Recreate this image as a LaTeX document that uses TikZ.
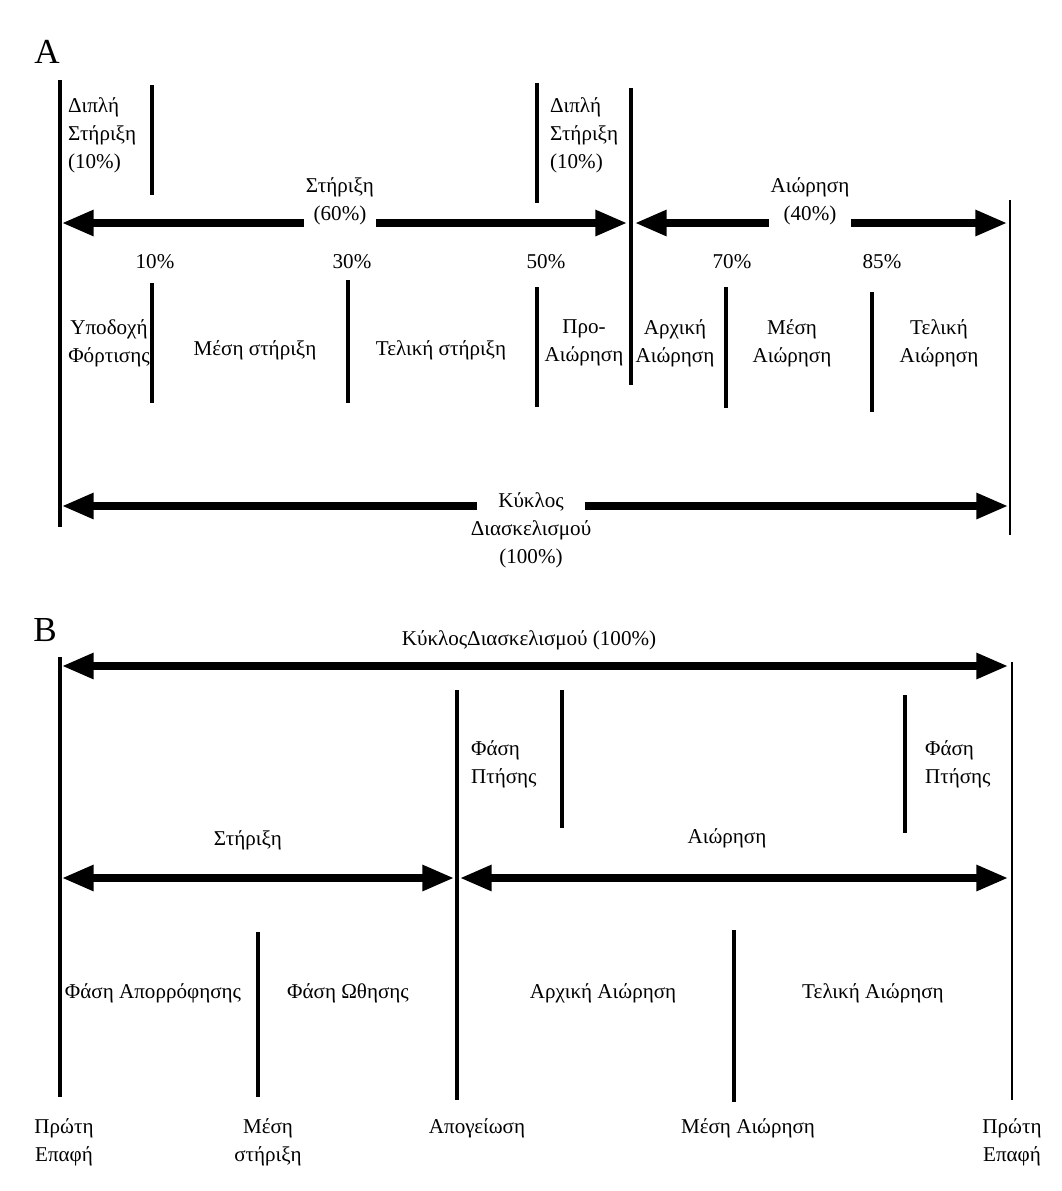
\documentclass[tikz,border=0pt]{standalone}
\usepackage{fontspec}
\setmainfont{Liberation Serif}
\usetikzlibrary{arrows.meta,positioning}

\begin{document}
\begin{tikzpicture}[
x=0.02cm,
y=-0.02cm,
bar/.style={
  line width=2.8pt,
  },
rim/.style={
  line width=1.6pt,
  },
halfspan/.style={
  line width=4pt,
  -{Triangle[length=18pt,width=14pt]}
  },
span/.style={
  line width=4pt,
  {Triangle[length=18pt,width=14pt]}-{Triangle[length=18pt,width=14pt]}
  },
lbl/.style={
  font=\fontsize{12}{16}\selectfont,
  align=center,
  inner sep=1pt
  },
lbll/.style={
  lbl,
  align=left,
  anchor=west
  },
tag/.style={
  font=\fontsize{20}{24}\selectfont,
  inner sep=0pt
  }
]
\useasboundingbox (0,0) rectangle (1062,1191);

% A
\node[tag] (tagA) at (47,52) {A};

\coordinate (a0t) at (60,80);
\coordinate (a0b) at (60,527);
\coordinate (amt) at (631,88);
\coordinate (amb) at (631,385);
\coordinate (a9t) at (1010,200);
\coordinate (a9b) at (1010,535);
\draw[bar] (a0t) -- (a0b);
\draw[bar] (amt) -- (amb);
\draw[rim] (a9t) -- (a9b);

\coordinate (d1t) at (152,85);
\coordinate (d1b) at (152,195);
\coordinate (d2t) at (537,83);
\coordinate (d2b) at (537,203);
\draw[bar] (d1t) -- (d1b);
\draw[bar] (d2t) -- (d2b);
\node[lbll] (d1) at (66,135) {Διπλή\\Στήριξη\\(10\%)};
\node[lbll] (d2) at (548,135) {Διπλή\\Στήριξη\\(10\%)};

\coordinate (s0) at (62,223);
\coordinate (s1) at (627,223);
\node[lbl] (st) at (340,201) {Στήριξη\\(60\%)};
\draw[halfspan] (st.west |- s0) -- (s0);
\draw[halfspan] (st.east |- s1) -- (s1);

\coordinate (w0) at (635,223);
\coordinate (w1) at (1007,223);
\node[lbl] (sw) at (810,201) {Αιώρηση\\(40\%)};
\draw[halfspan] (sw.west |- w0) -- (w0);
\draw[halfspan] (sw.east |- w1) -- (w1);

\foreach \px/\pt/\pb/\lx/\pp [count=\ki] in {152/283/403/155/10, 348/280/403/352/30, 537/287/407/546/50, 726/287/408/732/70, 872/292/412/882/85}
{
  \coordinate (p\ki t) at (\px,\pt);
  \coordinate (p\ki b) at (\px,\pb);
  \draw[bar] (p\ki t) -- (p\ki b);
  \node[lbl] (pc\ki) at (\lx,262) {\pp\%};
}

\node[lbl] (ph1) at (109,343) {Υποδοχή\\Φόρτισης};
\node[lbl] (ph2) at (255,350) {Μέση στήριξη};
\node[lbl] (ph3) at (441,350) {Τελική στήριξη};
\node[lbl] (ph4) at (584,343) {Προ-\\Αιώρηση};
\node[lbl] (ph5) at (675,343) {Αρχική\\Αιώρηση};
\node[lbl] (ph6) at (792,343) {Μέση\\Αιώρηση};
\node[lbl] (ph7) at (939,343) {Τελική\\Αιώρηση};

\coordinate (c0) at (62,506);
\coordinate (c1) at (1008,506);
\node[lbl, inner xsep=-4pt] (cyc) at (531,530) {Κύκλος\\Διασκελισμού\\(100\%)};
\draw[halfspan] (cyc.west |- c0) -- (c0);
\draw[halfspan] (cyc.east |- c1) -- (c1);

% B
\node[tag] (tagB) at (45,630) {B};

\coordinate (b0t) at (60,657);
\coordinate (b0b) at (60,1097);
\coordinate (bmt) at (457,690);
\coordinate (bmb) at (457,1100);
\coordinate (b9t) at (1012,662);
\coordinate (b9b) at (1012,1100);
\draw[bar] (b0t) -- (b0b);
\draw[bar] (bmt) -- (bmb);
\draw[rim] (b9t) -- (b9b);

\coordinate (k0) at (62,666);
\coordinate (k1) at (1008,666);
\node[lbl] (kyk) at (529,640) {ΚύκλοςΔιασκελισμού (100\%)};
\draw[span] (k0) -- (k1);

\coordinate (f1t) at (562,690);
\coordinate (f1b) at (562,828);
\coordinate (f2t) at (905,695);
\coordinate (f2b) at (905,833);
\draw[bar] (f1t) -- (f1b);
\draw[bar] (f2t) -- (f2b);
\node[lbll] (fl1) at (469,764) {Φάση\\Πτήσης};
\node[lbll] (fl2) at (923,764) {Φάση\\Πτήσης};

\coordinate (g0) at (62,878);
\coordinate (g1) at (454,878);
\coordinate (g2) at (460,878);
\coordinate (g3) at (1008,878);
\draw[span] (g0) -- (g1);
\draw[span] (g2) -- (g3);
\node[lbl] (gst) at (248,840) {Στήριξη};
\node[lbl] (gsw) at (727,838) {Αιώρηση};

\coordinate (m1t) at (258,932);
\coordinate (m1b) at (258,1097);
\coordinate (m2t) at (734,930);
\coordinate (m2b) at (734,1102);
\draw[bar] (m1t) -- (m1b);
\draw[bar] (m2t) -- (m2b);

\node[lbl] (q1) at (153,993) {Φάση Απορρόφησης};
\node[lbl] (q2) at (348,993) {Φάση Ωθησης};
\node[lbl] (q3) at (603,993) {Αρχική Αιώρηση};
\node[lbl] (q4) at (873,993) {Τελική Αιώρηση};

\node[lbl] (e1) at (64,1142) {Πρώτη\\Επαφή};
\node[lbl] (e2) at (268,1142) {Μέση\\στήριξη};
\node[lbl] (e3) at (477,1128) {Απογείωση};
\node[lbl] (e4) at (748,1128) {Μέση Αιώρηση};
\node[lbl] (e5) at (1012,1142) {Πρώτη\\Επαφή};

\end{tikzpicture}
\end{document}
